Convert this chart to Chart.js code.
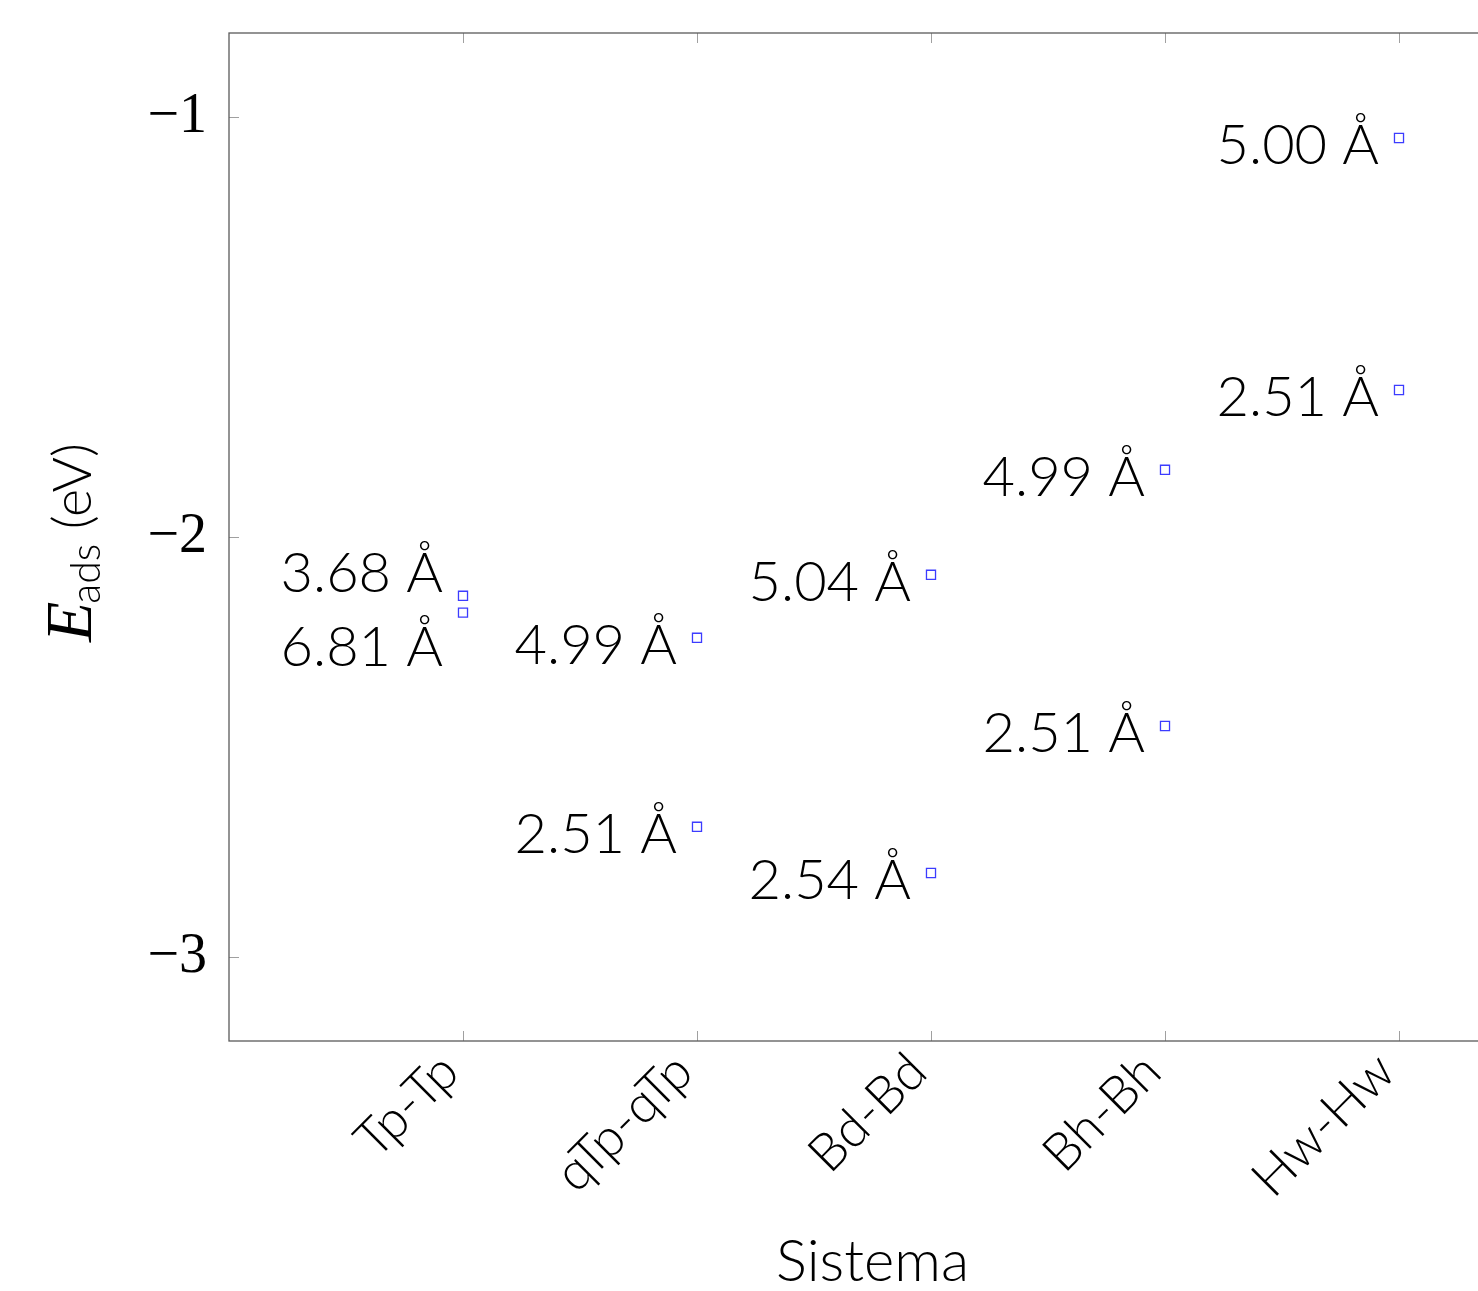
<!DOCTYPE html>
<html><head><meta charset="utf-8">
<script src="https://cdn.jsdelivr.net/npm/chart.js@4.4.0/dist/chart.umd.min.js"></script>
<style>html,body{margin:0;padding:0;overflow:hidden;background:#fff}canvas{display:block}</style>
</head><body><canvas id="c" width="1530" height="1291"></canvas>
<script>
const categories = ['Tp-Tp', 'qTp-qTp', 'Bd-Bd', 'Bh-Bh', 'Hw-Hw'];
const pointCategory = [0, 0, 1, 1, 2, 2, 3, 3, 4, 4];
const eads = [-2.14, -2.18, -2.24, -2.69, -2.09, -2.80, -1.84, -2.45, -1.05, -1.65];
const distances = ['3.68 Å', '6.81 Å', '4.99 Å', '2.51 Å', '5.04 Å', '2.54 Å', '4.99 Å', '2.51 Å', '5.00 Å', '2.51 Å'];
const yTicks = [-3, -2, -1];

const frame = {
  id: 'frame',
  afterDraw(chart) {
    const {ctx, chartArea: a} = chart;
    const xs = chart.scales.x, ys = chart.scales.y;
    ctx.save();
    ctx.strokeStyle = '#a0a0a0';
    ctx.lineWidth = 1;
    const tl = 10;
    xs.ticks.forEach(t => {
      const px = Math.round(xs.getPixelForValue(t.value)) + 0.5;
      ctx.beginPath();
      ctx.moveTo(px, a.bottom); ctx.lineTo(px, a.bottom - tl);
      ctx.moveTo(px, a.top); ctx.lineTo(px, a.top + tl);
      ctx.stroke();
    });
    ys.ticks.forEach(t => {
      const py = Math.round(ys.getPixelForValue(t.value)) + 0.5;
      ctx.beginPath();
      ctx.moveTo(a.left, py); ctx.lineTo(a.left + tl, py);
      ctx.moveTo(a.right, py); ctx.lineTo(a.right - tl, py);
      ctx.stroke();
    });
    ctx.strokeStyle = '#5a5a5a';
    ctx.lineWidth = 1.3;
    ctx.strokeRect(a.left, a.top, a.right - a.left, a.bottom - a.top);
    // y axis title
    ctx.fillStyle = '#000';
    ctx.translate(91, 642);
    ctx.rotate(-Math.PI / 2);
    ctx.textBaseline = 'alphabetic';
    ctx.textAlign = 'left';
    ctx.font = 'italic 66px "Liberation Serif"';
    ctx.fillText('E', 0, 0);
    let w = ctx.measureText('E').width;
    ctx.font = '300 41px Lato';
    ctx.fillText('ads', w - 2, 9);
    w += -2 + ctx.measureText('ads').width;
    ctx.font = '300 54px Lato';
    ctx.fillText(' (eV)', w, 0);
    ctx.restore();
  }
};

const pointLabels = {
  id: 'pointLabels',
  afterDatasetsDraw(chart, args, opts) {
    const {ctx} = chart;
    const meta = chart.getDatasetMeta(0);
    ctx.save();
    ctx.font = '300 56px Lato';
    ctx.fillStyle = '#000';
    ctx.textAlign = 'right';
    ctx.textBaseline = 'alphabetic';
    meta.data.forEach((pt, i) => {
      const dy = opts.baseOffset + (opts.shift[i] || 0);
      ctx.fillText(distances[i], pt.x - opts.gap, pt.y + dy);
    });
    ctx.restore();
  }
};

new Chart(document.getElementById('c'), {
  type: 'scatter',
  data: {
    datasets: [{
      data: pointCategory.map((c, i) => ({x: c, y: eads[i]})),
      pointStyle: 'rect',
      pointRadius: 6.4,
      borderColor: 'rgb(60,60,255)',
      backgroundColor: 'rgba(0,0,0,0)',
      borderWidth: 1.3,
      showLine: false
    }]
  },
  options: {
    responsive: false,
    animation: false,
    layout: {padding: {top: 33, right: 14, left: 0, bottom: 0}},
    plugins: {
      legend: {display: false},
      tooltip: {enabled: false},
      pointLabels: {gap: 20, baseOffset: 26, shift: [-30, 27, 0, 0, 0, 0, 0, 0, 0, 0]}
    },
    scales: {
      x: {
        type: 'linear',
        min: -1, max: 4.5,
        grid: {display: false},
        border: {display: false},
        afterBuildTicks: s => { s.ticks = categories.map((c, i) => ({value: i})); },
        afterFit: s => { s.height = 250; s.paddingLeft = 0; s.paddingRight = 0; },
        ticks: {
          autoSkip: false,
          minRotation: 45, maxRotation: 45,
          padding: -8,
          labelOffset: -13,
          color: '#000',
          font: {family: 'Lato', weight: 300, size: 52},
          callback: v => categories[v]
        },
        title: {
          display: true, text: 'Sistema', color: '#000',
          font: {family: 'Lato', weight: 300, size: 58},
          padding: {top: 0, bottom: -6}
        }
      },
      y: {
        min: -3.2, max: -0.8,
        grid: {display: false},
        border: {display: false},
        afterBuildTicks: s => { s.ticks = yTicks.map(v => ({value: v})); },
        afterFit: s => { s.width = 229; s.paddingTop = 0; s.paddingBottom = 0; },
        ticks: {
          padding: 14,
          color: '#000',
          font: {family: 'Liberation Serif', size: 56},
          callback: v => '\u2212' + Math.abs(v)
        }
      }
    }
  },
  plugins: [frame, pointLabels]
});
</script></body></html>
